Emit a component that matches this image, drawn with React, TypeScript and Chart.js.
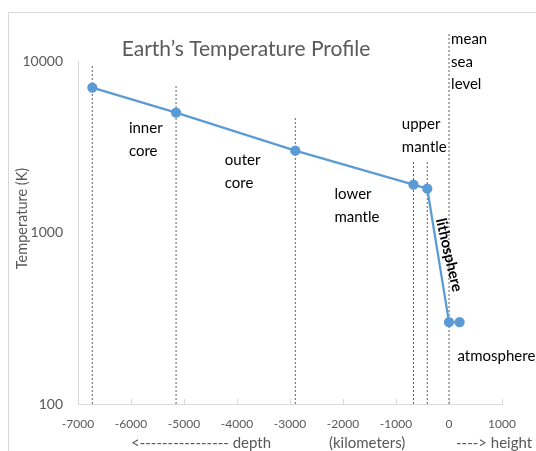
import React, { useEffect, useRef } from "react";
import { Chart, registerables } from "chart.js";

Chart.register(...registerables);

// ---- data ----
const depthKm = [-6730, -5150, -2900, -670, -410, 0, 200];
const temperatureK = [7000, 5000, 3000, 1900, 1800, 300, 300];
const boundaryKm = [-6730, -5150, -2900, -670, -410, 0];
const boundaryTopK = [9400, 7200, 4700, 2600, 2600, 14500];
const xTickValues = [-7000, -6000, -5000, -4000, -3000, -2000, -1000, 0, 1000];
const yTickValues = [100, 1000, 10000];
const regionNames = [
  ["inner", "core"],
  ["outer", "core"],
  ["lower", "mantle"],
  ["upper", "mantle"],
  ["mean", "sea", "level"],
  ["atmosphere"],
];
const regionAnchorKm = [-6040, -4230, -2160, -890, 40, 160];
const regionAnchorK = [4050, 2640, 1665, 4270, 13360, 190];
const slopeLabel = "lithosphere";
const slopeAnchorKm = 0;
const slopeAnchorK = 740;
const chartTitle = "Earth\u2019s Temperature Profile";
const yAxisTitle = "Temperature (K)";
const xAxisTitleParts = ["<---------------- depth", "(kilometers)", "----> height"];

// ---- style ----
const FONT = "Lato, 'Open Sans', 'Liberation Sans', sans-serif";
const GRAY = "#595959";
const AXIS = "#d9d9d9";
const BLUE = "#5b9bd5";
const W = 528;
const H = 439;

const decorPlugin = {
  id: "decor",
  beforeDatasetsDraw(chart: any) {
    const { ctx, scales } = chart;
    const x = scales.x;
    const bottom = chart.chartArea.bottom;
    ctx.save();
    ctx.strokeStyle = AXIS;
    ctx.lineWidth = 1;
    xTickValues.forEach((v) => {
      const px = Math.round(x.getPixelForValue(v)) + 0.5;
      ctx.beginPath();
      ctx.moveTo(px, bottom);
      ctx.lineTo(px, bottom - 5);
      ctx.stroke();
    });
    ctx.restore();
  },
  afterDatasetsDraw(chart: any) {
    const { ctx, scales, chartArea } = chart;
    const x = scales.x;
    const y = scales.y;
    ctx.save();
    // region labels
    ctx.fillStyle = "#000000";
    ctx.font = `15px ${FONT}`;
    ctx.textAlign = "left";
    ctx.textBaseline = "middle";
    regionNames.forEach((lines, i) => {
      const px = x.getPixelForValue(regionAnchorKm[i]);
      const py = y.getPixelForValue(regionAnchorK[i]);
      lines.forEach((t, j) => ctx.fillText(t, px, py + j * 22.5, 79));
    });
    // rotated lithosphere label
    ctx.save();
    ctx.translate(x.getPixelForValue(slopeAnchorKm), y.getPixelForValue(slopeAnchorK));
    ctx.rotate((77 * Math.PI) / 180);
    ctx.font = `bold 15px ${FONT}`;
    ctx.textAlign = "center";
    ctx.fillText(slopeLabel, 0, 0);
    ctx.restore();
    // title
    ctx.fillStyle = GRAY;
    ctx.font = `21px ${FONT}`;
    ctx.textAlign = "center";
    ctx.fillText(chartTitle, 238, 37);
    // y axis title
    ctx.save();
    ctx.translate(14, 206.5);
    ctx.rotate(-Math.PI / 2);
    ctx.font = `14.5px ${FONT}`;
    ctx.fillText(yAxisTitle, 0, 0);
    ctx.restore();
    // x axis title pieces
    ctx.font = `15px ${FONT}`;
    ctx.textAlign = "left";
    const ty = chartArea.bottom + 39;
    ctx.fillText(xAxisTitleParts[0], 123, ty);
    ctx.fillText(xAxisTitleParts[1], 321, ty);
    ctx.fillText(xAxisTitleParts[2], 448, ty);
    ctx.restore();
  },
};

export default function App() {
  const ref = useRef<HTMLCanvasElement | null>(null);
  useEffect(() => {
    document.documentElement.style.overflow = "hidden";
    document.body.style.overflow = "hidden";
    document.body.style.margin = "0";
    const canvas = ref.current;
    if (!canvas) return;
    const boundaryDatasets = boundaryKm.map((b, i) => ({
      data: [
        { x: b, y: 100 },
        { x: b, y: boundaryTopK[i] },
      ],
      showLine: true,
      borderColor: "#606060",
      borderWidth: 1,
      borderDash: [2, 2],
      pointRadius: 0,
      clip: false as any,
      order: 2,
    }));
    const chart = new Chart(canvas, {
      type: "scatter",
      data: {
        datasets: [
          {
            data: depthKm.map((d, i) => ({ x: d, y: temperatureK[i] })),
            showLine: true,
            borderColor: BLUE,
            borderWidth: 2.25,
            pointRadius: 4,
            pointBackgroundColor: BLUE,
            pointBorderColor: BLUE,
            order: 0,
          } as any,
          ...boundaryDatasets,
        ],
      },
      options: {
        animation: false,
        responsive: false,
        devicePixelRatio: 1,
        layout: { padding: { top: 49, right: W - 494, left: 0, bottom: 0 } },
        plugins: {
          legend: { display: false },
          tooltip: { enabled: false },
          title: { display: false },
        },
        scales: {
          x: {
            type: "linear",
            min: -7000,
            max: 1000,
            afterBuildTicks: (axis: any) => {
              axis.ticks = xTickValues.map((v) => ({ value: v }));
            },
            afterFit: (axis: any) => {
              axis.height = H - 392;
            },
            grid: { display: true, drawOnChartArea: false, drawTicks: false },
            border: { display: true, color: AXIS, width: 1 },
            ticks: {
              padding: 13,
              color: GRAY,
              font: { family: FONT, size: 12 },
              maxRotation: 0,
              callback: (v: any) => String(v),
            },
          },
          y: {
            type: "logarithmic",
            min: 100,
            max: 10000,
            afterBuildTicks: (axis: any) => {
              axis.ticks = yTickValues.map((v) => ({ value: v }));
            },
            afterFit: (axis: any) => {
              axis.width = 70;
            },
            grid: { display: true, drawOnChartArea: false, drawTicks: false },
            border: { display: true, color: AXIS, width: 1 },
            ticks: {
              padding: 15,
              color: GRAY,
              font: { family: FONT, size: 14 },
              callback: (v: any) => String(v),
            },
          },
        },
      },
      plugins: [decorPlugin],
    });
    return () => chart.destroy();
  }, []);

  return (
    <div
      style={{
        position: "relative",
        width: 536,
        height: 451,
        overflow: "hidden",
      }}
    >
      <div
        style={{
          position: "absolute",
          left: 8,
          top: 12,
          width: 700,
          height: 700,
          border: `1px solid ${AXIS}`,
          boxSizing: "border-box",
        }}
      />
      <canvas
        ref={ref}
        width={W}
        height={H}
        style={{ position: "absolute", left: 8, top: 12, width: W, height: H }}
      />
    </div>
  );
}
